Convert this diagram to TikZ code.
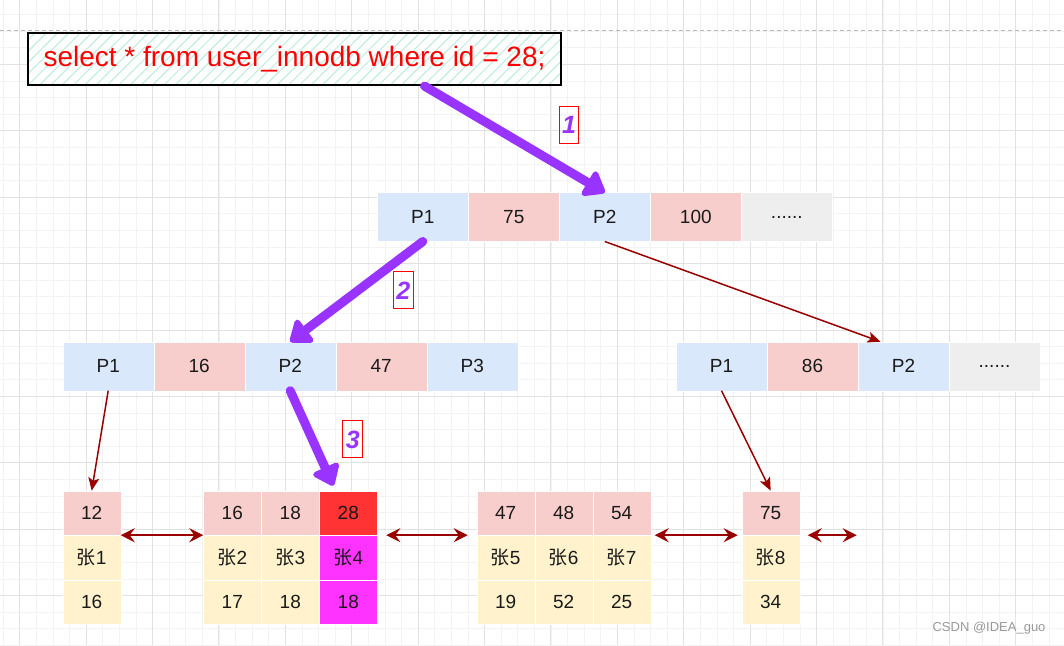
\documentclass[tikz,border=0pt]{standalone}
\usepackage{fontspec}
\setmainfont{Liberation Sans}
\newfontfamily\cjk{Noto Sans CJK SC}
\usepackage{tikz}
\usetikzlibrary{arrows.meta,positioning,patterns.meta}
\definecolor{ink}{HTML}{1A1A1A}
\definecolor{ptrbg}{HTML}{DAE8FC}
\definecolor{keybg}{HTML}{F8CECC}
\definecolor{morebg}{HTML}{EEEEEE}
\definecolor{rowbg}{HTML}{FFF2CC}
\definecolor{hitkey}{HTML}{FF3333}
\definecolor{hitrow}{HTML}{FF33FF}
\definecolor{linkred}{HTML}{990000}
\definecolor{walk}{HTML}{9933FF}
\definecolor{hatch}{HTML}{BDEBDD}
\definecolor{gridmin}{HTML}{F3F3F3}
\definecolor{gridmaj}{HTML}{E2E2E2}

\begin{document}
\begin{tikzpicture}[x=1pt,y=-1pt,font=\fontsize{19}{22}\selectfont,text=ink,
  cell/.style={draw=white,line width=0.4pt,outer sep=0pt,inner sep=0pt,minimum width=91pt,minimum height=49pt},
  ptrcell/.style={cell,fill=ptrbg},
  keycell/.style={cell,fill=keybg},
  morecell/.style={cell,fill=morebg},
  leafcell/.style={draw=white,line width=0.4pt,outer sep=0pt,inner sep=0pt,minimum width=58pt,minimum height=44.5pt},
  treelink/.style={draw=linkred,line width=1.5pt,-{Stealth[length=13pt,width=11pt,inset=3pt]}},
  nbr/.style={draw=linkred,line width=2.5pt,{Stealth[length=14pt,width=14pt,inset=5pt]}-{Stealth[length=14pt,width=14pt,inset=5pt]}},
  walkline/.style={draw=walk,line width=9pt,line cap=round,-{Triangle[round,length=22pt,width=32pt]}},
  numtag/.style={draw=red,line width=1pt,inner sep=3pt,minimum height=37pt,text=walk,font=\fontsize{25}{25}\selectfont\bfseries\itshape}]
  \useasboundingbox (0,0) rectangle (1064,645);
  \fill[white] (0,0) rectangle (1064,645);
  % grid paper
  \foreach \i in {0,...,65}{
    \draw[gridmin,line width=0.7pt] ({-13.5+16.6*\i},0) -- ({-13.5+16.6*\i},645);
  }
  \foreach \j in {0,...,39}{
    \draw[gridmin,line width=0.7pt] (0,{-2+16.6*\j}) -- (1064,{-2+16.6*\j});
  }
  \foreach \i in {0,...,16}{
    \draw[gridmaj,line width=0.9pt] ({19.7+66.4*\i},0) -- ({19.7+66.4*\i},645);
  }
  \foreach \j in {0,...,10}{
    \draw[gridmaj,line width=0.9pt] (0,{-2+66.4*\j}) -- (1064,{-2+66.4*\j});
  }
  \draw[gray!55,line width=1pt,dash pattern=on 4pt off 3pt] (0,30) -- (1064,30);

  % query
  \fill[white] (28,33) rectangle (561,85);
  \path[pattern={Lines[angle=45,distance=8pt,line width=1pt]},pattern color=hatch] (28,33) rectangle (561,85);
  \node[draw=black,line width=2.2pt,minimum width=533pt,minimum height=52pt,inner sep=0pt,
        text=red,font=\fontsize{28}{30}\selectfont] (sql) at (294.5,59) {select * from user\_innodb where id = 28;};

  % root page
  \node[ptrcell,anchor=north west] (r1) at (377.3,192.5) {P1};
  \node[keycell,right=0pt of r1] (r2) {75};
  \node[ptrcell,right=0pt of r2] (r3) {P2};
  \node[keycell,right=0pt of r3] (r4) {100};
  \node[morecell,right=0pt of r4] (r5) {......};

  % second level
  \node[ptrcell,anchor=north west] (m1) at (62.7,341.7) {P1};
  \node[keycell,right=0pt of m1] (m2) {16};
  \node[ptrcell,right=0pt of m2] (m3) {P2};
  \node[keycell,right=0pt of m3] (m4) {47};
  \node[ptrcell,right=0pt of m4] (m5) {P3};

  \node[ptrcell,anchor=north west] (n1) at (676,341.7) {P1};
  \node[keycell,right=0pt of n1] (n2) {86};
  \node[ptrcell,right=0pt of n2] (n3) {P2};
  \node[morecell,right=0pt of n3] (n4) {......};

  % leaf pages
  \foreach \c/\px/\k/\z/\v/\kf/\rf in {1/62.7/12/1/16/keybg/rowbg,2/203.3/16/2/17/keybg/rowbg,
      3/261.3/18/3/18/keybg/rowbg,4/319.3/28/4/18/hitkey/hitrow,5/476.7/47/5/19/keybg/rowbg,
      6/534.7/48/6/52/keybg/rowbg,7/592.7/54/7/25/keybg/rowbg,8/741.7/75/8/34/keybg/rowbg}{
    \node[leafcell,fill=\kf,anchor=north west] (k\c) at (\px,490.7) {\k};
    \node[leafcell,fill=\rf,below=0pt of k\c] (z\c) {{\cjk 张}\z};
    \node[leafcell,fill=\rf,below=0pt of z\c] (v\c) {\v};
  }

  % pointers
  \draw[treelink] (r3.south) -- ([xshift=-23pt]n3.north);
  \draw[treelink] (m1.south) -- (k1.north);
  \draw[treelink] (n1.south) -- (k8.north);

  % leaf chain
  \draw[nbr] (k1.south east) -- (k2.south west);
  \draw[nbr,shorten <=9pt,shorten >=9pt] (k4.south east) -- (k5.south west);
  \draw[nbr,shorten <=4pt,shorten >=4pt] (k7.south east) -- (k8.south west);
  \coordinate[right=57pt of k8.south east] (tailend);
  \draw[nbr,shorten <=8pt] (k8.south east) -- (tailend);

  % search path
  \draw[walkline] ([xshift=130pt]sql.south) -- (r3.north);
  \draw[walkline] (r1.south) -- (m3.north);
  \draw[walkline] (m3.south) -- ([xshift=-15pt,yshift=5pt]k4.north);
  \node[numtag] (t1) at (569,124.5) {1};
  \node[numtag] (t2) at (403.4,290.4) {2};
  \node[numtag] (t3) at (352.9,439.4) {3};

  \node[text=gray!80,font=\fontsize{13}{14}\selectfont,anchor=east] (mark) at (1049,628) {CSDN @IDEA\_guo};
\end{tikzpicture}
\end{document}
